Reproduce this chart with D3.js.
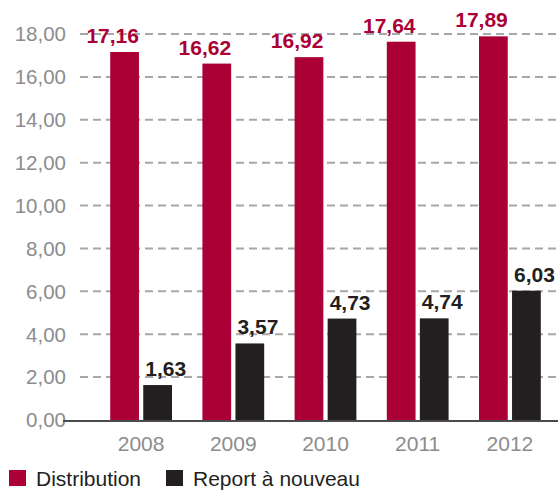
<!DOCTYPE html>
<html>
<head>
<meta charset="utf-8">
<script src="https://cdn.jsdelivr.net/npm/d3@7"></script>
<style>
  html, body { margin: 0; padding: 0; background: #fff; }
  svg { display: block; font-family: "Liberation Sans", Arial, sans-serif; }
</style>
</head>
<body>
<div id="chart"></div>
<script>
const years = ["2008", "2009", "2010", "2011", "2012"];
const series = ["Distribution", "Report à nouveau"];
const distribution = [17.16, 16.62, 16.92, 17.64, 17.89];
const report = [1.63, 3.57, 4.73, 4.74, 6.03];
const yTicks = [0, 2, 4, 6, 8, 10, 12, 14, 16, 18];

const colors = { "Distribution": "#ab0035", "Report à nouveau": "#231f20" };

const width = 558, height = 490;
const svg = d3.select("#chart").append("svg")
  .attr("width", width)
  .attr("height", height);

const fr = d3.formatLocale({ decimal: ",", thousands: " ", grouping: [3], currency: ["", " €"] });
const fmt = fr.format(".2f");

const x0 = d3.scaleBand().domain(years).range([95, 556]).paddingInner(0.33).paddingOuter(0.165);
const x1 = d3.scaleBand().domain(series).range([0, x0.bandwidth()]).paddingInner(0.13);
const y = d3.scaleLinear().domain([0, 18]).range([420, 34]);

// grid lines
svg.append("g")
  .selectAll("line")
  .data(yTicks.filter(d => d > 0))
  .join("line")
  .attr("x1", 80).attr("x2", width)
  .attr("y1", d => y(d)).attr("y2", d => y(d))
  .attr("stroke", "#a7a7aa")
  .attr("stroke-width", 2)
  .attr("stroke-dasharray", "8,5");

// y labels
svg.append("g")
  .selectAll("text")
  .data(yTicks)
  .join("text")
  .attr("x", 66)
  .attr("y", d => y(d))
  .attr("dy", "0.36em")
  .attr("text-anchor", "end")
  .attr("font-size", 20.5)
  .attr("fill", "#8c8c8e")
  .text(d => fmt(d));

const rows = years.map((yr, i) => ({ year: yr, values: [
  { key: series[0], value: distribution[i] },
  { key: series[1], value: report[i] }
]}));

const groups = svg.append("g")
  .selectAll("g")
  .data(rows)
  .join("g")
  .attr("transform", d => `translate(${x0(d.year)},0)`);

groups.selectAll("rect")
  .data(d => d.values)
  .join("rect")
  .attr("x", d => x1(d.key))
  .attr("y", d => y(d.value))
  .attr("width", x1.bandwidth())
  .attr("height", d => y(0) - y(d.value))
  .attr("fill", d => colors[d.key]);

// value labels: red ones end at bar right edge, dark ones start at bar left edge
groups.selectAll("text.val")
  .data(d => d.values)
  .join("text")
  .attr("class", "val")
  .attr("x", d => d.key === series[0] ? x1(d.key) + x1.bandwidth() : x1(d.key) + 2)
  .attr("y", d => y(d.value) - 9)
  .attr("text-anchor", d => d.key === series[0] ? "end" : "start")
  .attr("font-size", 21)
  .attr("font-weight", "bold")
  .attr("fill", d => d.key === series[0] ? "#ab0035" : "#231f20")
  .text(d => fmt(d.value));

// axis line
svg.append("line")
  .attr("x1", 63).attr("x2", width)
  .attr("y1", y(0) + 1).attr("y2", y(0) + 1)
  .attr("stroke", "#4a4a4c")
  .attr("stroke-width", 2);

// x labels
svg.append("g")
  .selectAll("text")
  .data(years)
  .join("text")
  .attr("x", d => x0(d) + x0.bandwidth() / 2)
  .attr("y", 451)
  .attr("text-anchor", "middle")
  .attr("font-size", 21)
  .attr("fill", "#8c8c8e")
  .text(d => d);

// legend
const legend = svg.append("g")
  .selectAll("g")
  .data(series)
  .join("g")
  .attr("transform", (d, i) => `translate(${i === 0 ? 9 : 166},470)`);

legend.append("rect")
  .attr("width", 17).attr("height", 16)
  .attr("fill", d => colors[d]);

legend.append("text")
  .attr("x", 27)
  .attr("y", 16)
  .attr("font-size", 21)
  .attr("fill", "#231f20")
  .text(d => d);
</script>
</body>
</html>
